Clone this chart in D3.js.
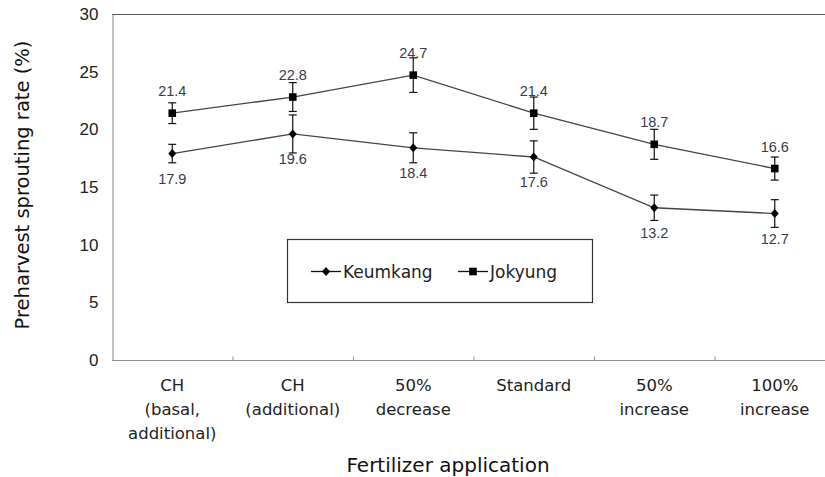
<!DOCTYPE html>
<html>
<head>
<meta charset="utf-8">
<script src="https://cdn.jsdelivr.net/npm/d3@7"></script>
<style>
  html, body { margin: 0; padding: 0; background: #fff; }
  svg { display: block; }
  text { font-family: "Liberation Sans", Arial, sans-serif; }
  .wide { font-family: "DejaVu Sans", "Liberation Sans", sans-serif; }
</style>
</head>
<body>
<svg id="chart" width="825" height="477"></svg>
<script>
// ---- data ----
const categories = [
  ["CH", "(basal,", "additional)"],
  ["CH", "(additional)"],
  ["50%", "decrease"],
  ["Standard"],
  ["50%", "increase"],
  ["100%", "increase"]
];
const keumkang = [17.9, 19.6, 18.4, 17.6, 13.2, 12.7];
const keumkangErr = [0.8, 1.65, 1.3, 1.4, 1.1, 1.2];
const jokyung = [21.4, 22.8, 24.7, 21.4, 18.7, 16.6];
const jokyungErr = [0.9, 1.25, 1.5, 1.4, 1.3, 1.0];
const yTicks = [0, 5, 10, 15, 20, 25, 30];
const seriesNames = ["Keumkang", "Jokyung"];

// ---- layout ----
const svg = d3.select("#chart");
const m = { left: 112, top: 14, right: 835, bottom: 360 };

const x = d3.scaleBand().domain(d3.range(categories.length)).range([m.left, m.right]);
const y = d3.scaleLinear().domain([0, 30]).range([m.bottom, m.top]);
const cx = i => x(i) + x.bandwidth() / 2;

// top border
svg.append("line").attr("x1", m.left).attr("x2", m.right)
  .attr("y1", m.top + 0.5).attr("y2", m.top + 0.5)
  .attr("stroke", "#555").attr("stroke-width", 1.2);
svg.append("line").attr("x1", m.right).attr("x2", m.right)
  .attr("y1", m.top).attr("y2", m.bottom)
  .attr("stroke", "#555");

// y axis
const yAxis = d3.axisLeft(y).tickValues(yTicks).tickSize(0).tickPadding(14);
const gy = svg.append("g").attr("transform", `translate(${m.left + 0.5},0)`).call(yAxis);
gy.select(".domain").attr("stroke", "#8c8c8c");
gy.selectAll("text").attr("font-size", 17).attr("fill", "#222")
  .attr("font-family", "Liberation Sans, Arial, sans-serif");

// x axis
const gx = svg.append("g").attr("transform", `translate(0,${m.bottom + 0.5})`);
gx.append("line").attr("x1", m.left).attr("x2", m.right).attr("stroke", "#8c8c8c");
const bounds = d3.range(1, categories.length).map(i => x(i));
gx.selectAll("line.tk").data(bounds).join("line").attr("class", "tk")
  .attr("x1", d => d + 0.5).attr("x2", d => d + 0.5)
  .attr("y1", 0).attr("y2", -4).attr("stroke", "#8c8c8c");
gx.selectAll("text.cat").data(categories).join("text").attr("class", "cat wide")
  .attr("text-anchor", "middle").attr("font-size", 16.5).attr("fill", "#222")
  .each(function(lines, i) {
    const t = d3.select(this);
    lines.forEach((l, k) => {
      t.append("tspan").attr("x", cx(i)).attr("y", 30 + k * 24).text(l);
    });
  });

// axis titles
svg.append("text").attr("class", "wide").attr("x", 448).attr("y", 472).attr("text-anchor", "middle")
  .attr("font-size", 20).attr("fill", "#111").text("Fertilizer application");
svg.append("text").attr("class", "wide").attr("transform", "translate(29,185) rotate(-90)")
  .attr("text-anchor", "middle").attr("font-size", 19.5).attr("fill", "#111")
  .text("Preharvest sprouting rate (%)");

// series drawing
const line = d3.line().x((d, i) => cx(i)).y(d => y(d));
const lineColor = "#444";

function drawSeries(vals, errs, shape, labelDy) {
  const g = svg.append("g");
  g.append("path").datum(vals).attr("d", line)
    .attr("fill", "none").attr("stroke", lineColor).attr("stroke-width", 1.3);
  // error bars
  vals.forEach((v, i) => {
    const x0 = cx(i);
    const yt = y(v + errs[i]), yb = y(v - errs[i]);
    g.append("line").attr("x1", x0).attr("x2", x0).attr("y1", yt).attr("y2", yb)
      .attr("stroke", "#111").attr("stroke-width", 1.2);
    [yt, yb].forEach(yy => g.append("line").attr("x1", x0 - 4).attr("x2", x0 + 4)
      .attr("y1", yy).attr("y2", yy).attr("stroke", "#111").attr("stroke-width", 1.2));
  });
  // markers
  g.selectAll("path.mk").data(vals).join("path").attr("class", "mk")
    .attr("transform", (d, i) => `translate(${cx(i)},${y(d)})`)
    .attr("d", shape).attr("fill", "#000");
  // labels
  g.selectAll("text.lbl").data(vals).join("text").attr("class", "lbl")
    .attr("x", (d, i) => cx(i)).attr("y", d => y(d) + labelDy)
    .attr("text-anchor", "middle").attr("font-size", 14.5).attr("fill", "#3a3a4a")
    .text(d => d.toFixed(1));
}
const diamond = "M0,-4.5L4,0L0,4.5L-4,0Z";
const square = "M-3.8,-3.8H3.8V3.8H-3.8Z";
drawSeries(keumkang, keumkangErr, diamond, 30);
drawSeries(jokyung, jokyungErr, square, -17);

// legend
const lg = svg.append("g");
lg.append("rect").attr("x", 287.5).attr("y", 239.5).attr("width", 305).attr("height", 63)
  .attr("fill", "#fff").attr("stroke", "#333").attr("stroke-width", 1.2);
const legendItems = [
  { name: seriesNames[0], x1: 311, shape: diamond },
  { name: seriesNames[1], x1: 458, shape: square }
];
legendItems.forEach(it => {
  lg.append("line").attr("x1", it.x1).attr("x2", it.x1 + 30).attr("y1", 271.5).attr("y2", 271.5)
    .attr("stroke", "#111").attr("stroke-width", 1.3);
  lg.append("path").attr("transform", `translate(${it.x1 + 15},271.5)`).attr("d", it.shape).attr("fill", "#000");
  lg.append("text").attr("class", "wide").attr("x", it.x1 + 32).attr("y", 277.5).attr("font-size", 17).attr("fill", "#222").text(it.name);
});
</script>
</body>
</html>
